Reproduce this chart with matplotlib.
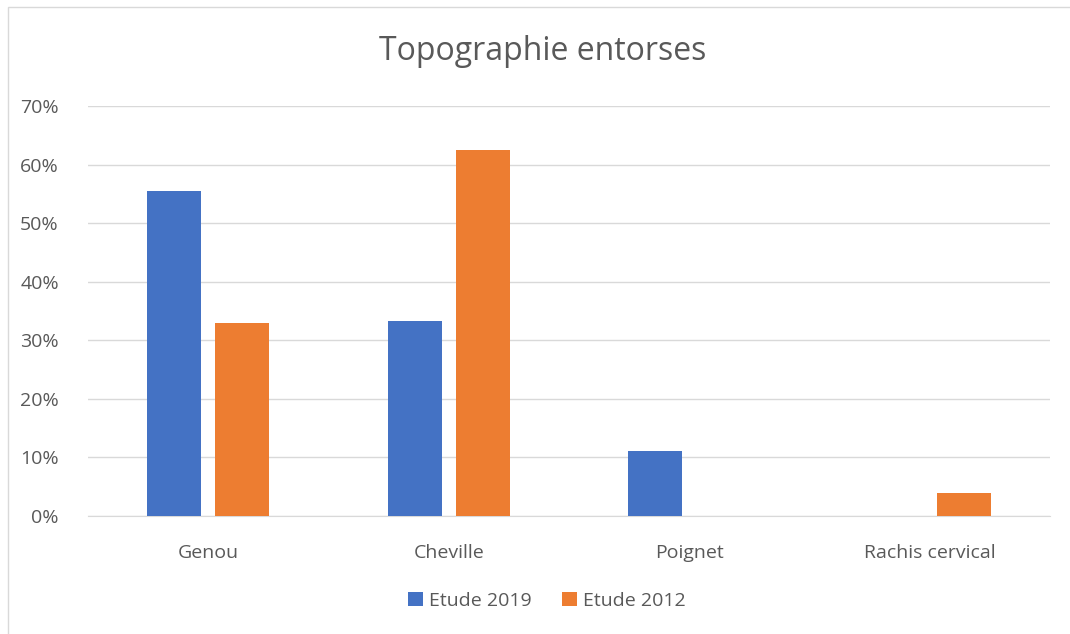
import numpy as np
import matplotlib
matplotlib.use("Agg")
import matplotlib.pyplot as plt
from matplotlib.patches import Rectangle
from matplotlib.ticker import PercentFormatter

categories = ["Genou", "Cheville", "Poignet", "Rachis cervical"]
etude_2019 = [0.555, 0.333, 0.111, 0.0]
etude_2012 = [0.33, 0.625, 0.0, 0.04]

plt.rcParams['font.family'] = ['Open Sans', 'DejaVu Sans']
txt = '#595959'

fig = plt.figure(figsize=(10.7, 6.34), dpi=100)
fig.patches.append(Rectangle((8/1070, -0.05), 1.1, 1 - 7/634 + 0.05, transform=fig.transFigure,
                             fill=False, edgecolor='#d9d9d9', linewidth=1))
ax = fig.add_axes([88/1070, 1 - 516/634, 962/1070, 410/634])

x = np.arange(len(categories))
w = 0.2245
off = 0.141
ax.bar(x - off, etude_2019, w, color='#4472c4', label='Etude 2019', zorder=3)
ax.bar(x + off, etude_2012, w, color='#ed7d31', label='Etude 2012', zorder=3)

ax.set_xlim(-0.5, 3.5)
ax.set_ylim(0, 0.7)
ax.set_yticks(np.arange(0, 0.71, 0.1))
ax.yaxis.set_major_formatter(PercentFormatter(1.0, decimals=0))
ax.set_xticks(x)
ax.set_xticklabels(categories)
ax.grid(axis='y', color='#d9d9d9', linewidth=1, zorder=0)
for s in ['top', 'right', 'left']:
    ax.spines[s].set_visible(False)
ax.spines['bottom'].set_color('#d9d9d9')
ax.tick_params(axis='both', length=0, colors=txt, labelsize=14)
ax.tick_params(axis='y', pad=21)
ax.tick_params(axis='x', pad=20)

fig.text(543/1070, 1 - 52/634, "Topographie entorses", ha='center', va='center', fontsize=23, color=txt)
fig.legend(loc='center', bbox_to_anchor=(547/1070, 1 - 601/634), ncol=2, frameon=False,
           fontsize=14, labelcolor=txt, handlelength=0.75, handleheight=0.75,
           handletextpad=0.3, columnspacing=1.6)

fig.savefig("out.png", dpi=100)
